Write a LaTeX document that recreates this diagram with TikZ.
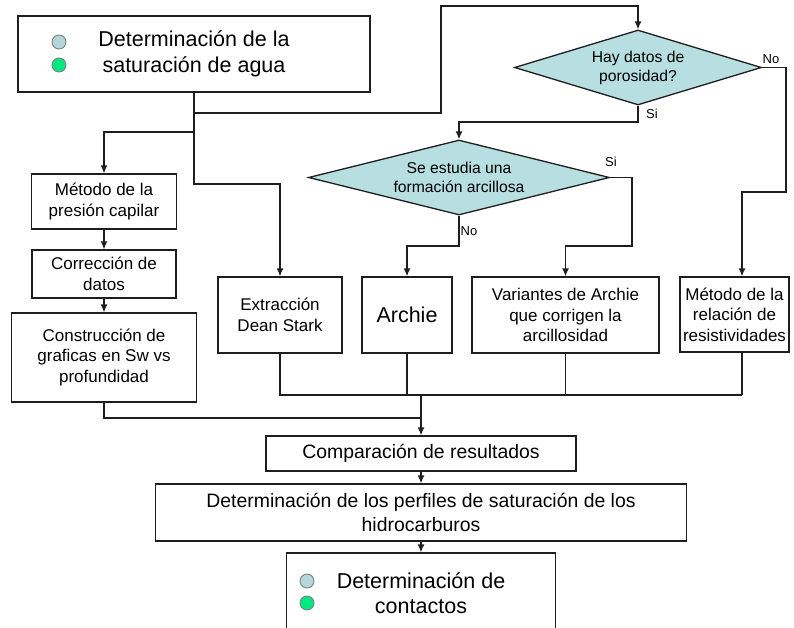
\documentclass[tikz,border=0pt]{standalone}
\usepackage{fontspec}
\setmainfont{Liberation Sans}
\usetikzlibrary{arrows.meta,shapes.geometric}
\definecolor{inkgray}{HTML}{1E1E1E}
\definecolor{paleteal}{HTML}{B7DFE2}
\definecolor{dotblue}{HTML}{B5D6D9}
\definecolor{dotgreen}{HTML}{00E882}

\begin{document}
\begin{tikzpicture}[
    x=1pt, y=-1pt,
    box/.style={draw=inkgray, line width=1.3pt, fill=white, align=center, inner sep=0pt, font=\fontsize{17}{20.6}\selectfont},
    bigbox/.style={box, font=\fontsize{21.5}{25.5}\selectfont},
    widebox/.style={box, font=\fontsize{19.4}{23.3}\selectfont},
    decision/.style={diamond, aspect=4, draw=inkgray, line width=1.3pt, fill=paleteal, align=center, inner sep=0pt, font=\fontsize{15.7}{19}\selectfont},
    dot/.style={circle, draw=gray, line width=0.9pt, minimum size=14pt, inner sep=0pt},
    answer/.style={font=\fontsize{13}{13}\selectfont, inner sep=0pt},
    arrow/.style={-{Latex[length=8pt,width=7pt]}, line width=1.3pt, draw=inkgray},
    line/.style={line width=1.3pt, draw=inkgray}
]
\useasboundingbox (0,0) rectangle (794,628);
\clip (0,0) rectangle (794,628);
\node[bigbox, minimum width=352pt, minimum height=76pt] (satur) at (194,54) {Determinación de la\\saturación de agua};
\node[dot, fill=dotblue] (dotA) at (59,42) {};
\node[dot, fill=dotgreen] (dotB) at (59,65) {};
\node[decision, minimum width=247pt, minimum height=75pt] (poros) at (638,67.5) {Hay datos de\\porosidad?};
\node[decision, minimum width=301pt, minimum height=75pt] (arcill) at (459,177.5) {Se estudia una\\formación arcillosa};
\node[box, minimum width=145pt, minimum height=55pt] (capilar) at (104,201.5) {Método de la\\presión capilar};
\node[box, minimum width=144pt, minimum height=48pt] (correc) at (104,274) {Corrección de\\datos};
\node[box, minimum width=185pt, minimum height=89pt] (constr) at (104,357.5) {Construcción de\\graficas en Sw vs\\profundidad};
\node[box, minimum width=124pt, minimum height=76pt] (dean) at (280,315) {Extracción\\Dean Stark};
\node[bigbox, minimum width=90pt, minimum height=76pt] (archie) at (407,315) {Archie};
\node[box, minimum width=187pt, minimum height=76pt] (variant) at (565.5,315) {Variantes de Archie\\que corrigen la\\arcillosidad};
\node[box, minimum width=109pt, minimum height=75pt] (relres) at (734.5,314.5) {Método de la\\relación de\\resistividades};
\node[widebox, minimum width=310pt, minimum height=35pt] (compar) at (421,453.5) {Comparación de resultados};
\node[widebox, minimum width=531pt, minimum height=57pt] (perfil) at (421,512.5) {Determinación de los perfiles de saturación de los\\hidrocarburos};
\node[bigbox, minimum width=269pt, minimum height=80pt] (contact) at (421,593) {Determinación de\\contactos};
\node[dot, fill=dotblue] (dotC) at (307,581) {};
\node[dot, fill=dotgreen] (dotD) at (307,603) {};
\node[answer] (noPoros) at (771,59) {No};
\node[answer] (siPoros) at (652,114) {Si};
\node[answer] (siArcill) at (611,162) {Si};
\node[answer] (noArcill) at (469,231) {No};
\coordinate (upA) at (194,113);
\coordinate (upB) at (441,6);
\coordinate (forkL) at (194,132);
\coordinate (forkR) at (194,184);
\coordinate (siA) at (638,122);
\coordinate (noTurn) at (786,192);
\coordinate (noDrop) at (742,192);
\coordinate (siB) at (632,246);
\coordinate (noC) at (459,246);
\coordinate (merge) at (421,395);
\coordinate (join) at (421,418);
\draw[arrow] (satur.south) |- (upA) -| (upB) -| (poros.north);
\draw[arrow] (satur.south) |- (forkL) -| (capilar.north);
\draw[arrow] (satur.south) |- (forkR) -| (dean.north);
\draw[arrow] (capilar) -- (correc);
\draw[arrow] (correc) -- (constr);
\draw[arrow] (poros.east) -| (noTurn) -- (noDrop) -- (noDrop |- relres.north);
\draw[arrow] (poros.south) -- (siA) -| (arcill.north);
\draw[arrow] (arcill.east) -| (siB) -| (variant.north);
\draw[arrow] (arcill.south) -- (noC) -| (archie.north);
\draw[line] (dean.south) |- (noDrop |- merge);
\foreach \n in {archie, variant} \draw[line] (\n.south) -- (\n.south |- merge);
\draw[line] (noDrop |- relres.south) -- (noDrop |- merge);
\draw[arrow] (merge) -- (compar.north);
\draw[line] (constr.south) |- (join);
\draw[arrow] (compar) -- (perfil);
\draw[arrow] (perfil) -- (contact);
\end{tikzpicture}
\end{document}
